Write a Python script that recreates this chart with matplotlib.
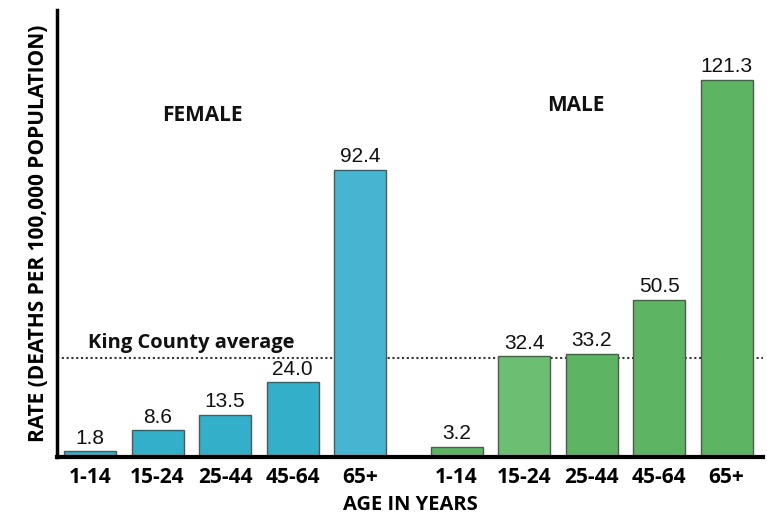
import matplotlib.pyplot as plt
import numpy as np
from matplotlib import font_manager

age_groups = ["1-14", "15-24", "25-44", "45-64", "65+"]
female_rates = [1.8, 8.6, 13.5, 24.0, 92.4]
male_rates = [3.2, 32.4, 33.2, 50.5, 121.3]
county_average = 31.9

female_colors = ["#33AFC9", "#33AFC9", "#33AFC9", "#33AFC9", "#47B5D1"]
male_colors = ["#5DB564", "#6CBE73", "#5DB564", "#5DB564", "#5DB564"]

names = {f.name for f in font_manager.fontManager.ttflist}
num_font = "Liberation Sans Narrow" if "Liberation Sans Narrow" in names else "Liberation Sans"
num_size = 17 if num_font == "Liberation Sans Narrow" else 15
bold_font = "Open Sans"

fig = plt.figure(figsize=(7.67, 5.18), dpi=100)
ax = fig.add_axes([57 / 767, 61 / 518, 706 / 767, 447 / 518])

x_f = np.arange(5)
x_m = np.arange(5) + 5.43
width = 0.77

bars_f = ax.bar(x_f, female_rates, width, color=female_colors, edgecolor="#555555", linewidth=1)
bars_m = ax.bar(x_m, male_rates, width, color=male_colors, edgecolor="#555555", linewidth=1)

for bars, vals in [(bars_f, female_rates), (bars_m, male_rates)]:
    for b, v in zip(bars, vals):
        ax.text(b.get_x() + b.get_width() / 2, v + 1.2, f"{v:.1f}",
                ha="center", va="bottom", fontsize=num_size, family=num_font, color="#111111")

ax.set_xlim(-0.49, 9.97)
ax.set_ylim(0, 143.8)

ax.axhline(county_average, color="#333333", linestyle=(0, (1, 1.3)), linewidth=1.5, zorder=0.5)
ax.text(-0.03, county_average + 1.6, "King County average", fontsize=14.5, fontweight="bold",
        family=bold_font, ha="left", va="bottom", color="#111111")

ax.text(1.67, 110, "FEMALE", fontsize=15, fontweight="bold", family=bold_font,
        ha="center", va="center", color="#111111")
ax.text(7.2, 113, "MALE", fontsize=15, fontweight="bold", family=bold_font,
        ha="center", va="center", color="#111111")

ax.set_xticks(list(x_f) + list(x_m))
ax.set_xticklabels(age_groups + age_groups, fontsize=15, fontweight="bold", family=bold_font)
ax.tick_params(axis="x", length=0, pad=7)
ax.set_yticks([])

for s in ["top", "right"]:
    ax.spines[s].set_visible(False)
ax.spines["left"].set_linewidth(2.5)
ax.spines["bottom"].set_linewidth(3)

ax.set_xlabel("AGE IN YEARS", fontsize=14.5, fontweight="bold", family=bold_font, labelpad=5)
ax.set_ylabel("RATE (DEATHS PER 100,000 POPULATION)", fontsize=15, fontweight="bold",
              family=bold_font, labelpad=6)

fig.savefig("out.png", dpi=100)
